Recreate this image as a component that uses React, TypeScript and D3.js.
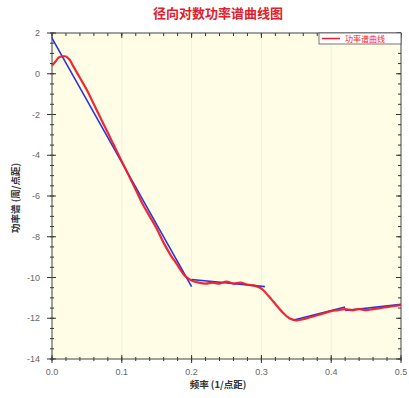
import React from "react";
import * as d3 from "d3";

// red curve: power spectrum (freq, value)
const specFreq = [
  0, 0.005, 0.01, 0.015, 0.02, 0.025, 0.03, 0.04, 0.05, 0.06, 0.07, 0.08, 0.09, 0.1,
  0.11, 0.12, 0.13, 0.14, 0.15, 0.16, 0.17, 0.18, 0.19, 0.2, 0.21, 0.22, 0.23, 0.24,
  0.25, 0.26, 0.27, 0.28, 0.29, 0.3, 0.31, 0.32, 0.33, 0.34, 0.35, 0.36, 0.37, 0.38,
  0.39, 0.4, 0.41, 0.42, 0.43, 0.44, 0.45, 0.46, 0.47, 0.48, 0.49, 0.5,
];
const specVal = [
  0.4, 0.6, 0.8, 0.85, 0.85, 0.7, 0.4, -0.2, -0.8, -1.5, -2.2, -2.9, -3.6, -4.3,
  -5.0, -5.7, -6.4, -7.0, -7.6, -8.3, -8.9, -9.4, -9.9, -10.15, -10.25, -10.3, -10.25, -10.3,
  -10.2, -10.3, -10.25, -10.35, -10.4, -10.55, -10.9, -11.3, -11.7, -12.0, -12.1, -12.05, -11.95, -11.85,
  -11.75, -11.65, -11.6, -11.55, -11.6, -11.55, -11.6, -11.55, -11.5, -11.45, -11.4, -11.35,
];

// blue fitted segments: [x0, y0, x1, y1]
const fitSegs = [
  [0, 1.75, 0.2, -10.45],
  [0.2, -10.1, 0.305, -10.45],
  [0.345, -12.1, 0.42, -11.45],
  [0.42, -11.62, 0.5, -11.32],
];

const xTicks = [0, 0.1, 0.2, 0.3, 0.4, 0.5];
const yTicks = [2, 0, -2, -4, -6, -8, -10, -12, -14];

export default function App() {
  const W = 409;
  const H = 398;
  const m = { left: 52, right: 401, top: 33, bottom: 359 };

  const x = d3.scaleLinear().domain([0, 0.5]).range([m.left, m.right]);
  const y = d3.scaleLinear().domain([-14, 2]).range([m.bottom, m.top]);

  const line = d3
    .line<number>()
    .x((_, i) => x(specFreq[i]))
    .y((d) => y(d))
    .curve(d3.curveCatmullRom);

  const xMinor = d3.range(0, 0.5001, 0.02);
  const yMinor = d3.range(-14, 2.001, 0.5);
  const num = d3.format(".1f");
  const cjk = "'Noto Sans CJK SC', sans-serif";
  const latin = "'Liberation Sans', Arial, sans-serif";

  return (
    <svg width={W} height={H} style={{ position: "absolute", left: 0, top: 0, background: "#fff" }}>
      <text x={218} y={18} textAnchor="middle" fontSize={13} fontWeight="bold" fill="#e0202a" fontFamily={cjk}>
        径向对数功率谱曲线图
      </text>

      {/* plot area */}
      <rect x={m.left} y={m.top} width={m.right - m.left} height={m.bottom - m.top} fill="#fffde6" />
      {xTicks.slice(1, -1).map((t) => (
        <line key={t} x1={x(t)} x2={x(t)} y1={m.top} y2={m.bottom} stroke="#f3f0da" strokeWidth={1} />
      ))}

      {/* minor ticks */}
      {xMinor.map((t) => (
        <g key={"xm" + t}>
          <line x1={x(t)} x2={x(t)} y1={m.bottom - 2} y2={m.bottom + 2} stroke="#333" />
          <line x1={x(t)} x2={x(t)} y1={m.top} y2={m.top + 3} stroke="#333" />
        </g>
      ))}
      {yMinor.map((t) => (
        <g key={"ym" + t}>
          <line x1={m.left - 2} x2={m.left + 2} y1={y(t)} y2={y(t)} stroke="#333" />
          <line x1={m.right - 3} x2={m.right} y1={y(t)} y2={y(t)} stroke="#333" />
        </g>
      ))}
      {xTicks.map((t) => (
        <g key={"x" + t}>
          <line x1={x(t)} x2={x(t)} y1={m.bottom - 4} y2={m.bottom + 4} stroke="#333" />
          <line x1={x(t)} x2={x(t)} y1={m.top} y2={m.top + 5} stroke="#333" />
          <text x={x(t)} y={m.bottom + 16} textAnchor="middle" fontSize={9} fill="#666" fontFamily={latin}>
            {num(t)}
          </text>
        </g>
      ))}
      {yTicks.map((t) => (
        <g key={"y" + t}>
          <line x1={m.left - 5} x2={m.left + 4} y1={y(t)} y2={y(t)} stroke="#333" />
          <line x1={m.right - 5} x2={m.right} y1={y(t)} y2={y(t)} stroke="#333" />
          <text x={m.left - 12} y={y(t)} dy="0.35em" textAnchor="end" fontSize={9} fill="#666" fontFamily={latin}>
            {t}
          </text>
        </g>
      ))}

      <rect x={m.left} y={m.top} width={m.right - m.left} height={m.bottom - m.top} fill="none" stroke="#444" strokeWidth={1} />

      {/* fitted lines */}
      {fitSegs.map((s, i) => (
        <line key={i} x1={x(s[0])} y1={y(s[1])} x2={x(s[2])} y2={y(s[3])} stroke="#2a36d8" strokeWidth={1.6} />
      ))}

      {/* spectrum */}
      <path d={line(specVal) || ""} fill="none" stroke="#ee1c2e" strokeWidth={2.2} opacity={0.95} />

      {/* legend */}
      <g>
        <rect x={319} y={33} width={82} height={11} fill="#fff" stroke="#555" strokeWidth={0.8} />
        <line x1={322} x2={340} y1={38.5} y2={38.5} stroke="#ee1c2e" strokeWidth={1.5} />
        <text x={345} y={41.5} fontSize={8} fill="#ee1c2e" fontFamily={cjk}>
          功率谱曲线
        </text>
      </g>

      {/* axis titles */}
      <text x={218} y={388} textAnchor="middle" fontSize={9.5} fontWeight="bold" fill="#333" fontFamily={cjk}>
        频率 (1/点距)
      </text>
      <text
        transform={`translate(19,${(m.top + m.bottom) / 2 + 2}) rotate(-90)`}
        textAnchor="middle"
        fontSize={9.5}
        fontWeight="bold"
        fill="#333"
        fontFamily={cjk}
      >
        功率谱 (周/点距)
      </text>
    </svg>
  );
}
